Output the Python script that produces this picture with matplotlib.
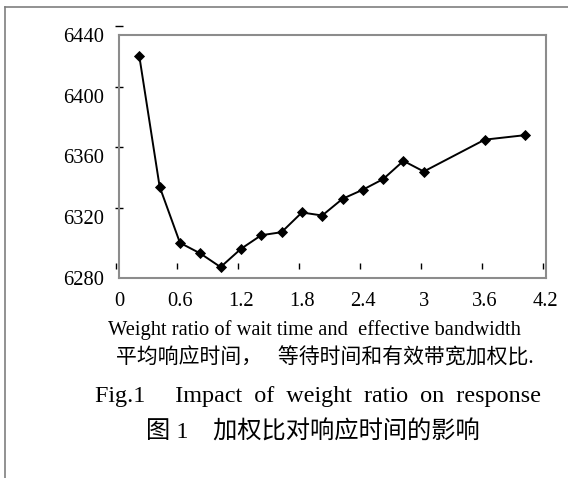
import matplotlib
matplotlib.use("Agg")
import matplotlib.pyplot as plt
from matplotlib.lines import Line2D
from matplotlib.transforms import ScaledTranslation

# weight ratio vs. average response time
ratio = [0.2, 0.4, 0.6, 0.8, 1.0, 1.2, 1.4, 1.6, 1.8, 2.0,
         2.2, 2.4, 2.6, 2.8, 3.0, 3.6, 4.0]
resp_time = [6426, 6340, 6303, 6296, 6287, 6299, 6308, 6310, 6323, 6321,
             6332, 6338, 6345, 6357, 6350, 6371, 6374]

xticks = [0, 0.6, 1.2, 1.8, 2.4, 3, 3.6, 4.2]
xtick_labels = ["0", "0.6", "1.2", "1.8", "2.4", "3", "3.6", "4.2"]
yticks = [6280, 6320, 6360, 6400, 6440]

xlabel_en = "Weight ratio of wait time and  effective bandwidth"
xlabel_cn = "平均响应时间，   等待时间和有效带宽加权比."
caption_en = "Fig.1     Impact  of  weight  ratio  on  response"
caption_cn = "图 1    加权比对响应时间的影响"

serif = "Liberation Serif"
mixed = ["Liberation Serif", "Noto Sans CJK SC"]

W, H = 568, 478
fig = plt.figure(figsize=(W / 100, H / 100), dpi=100)

# page frame (only top and left edges fall inside the image)
fig.add_artist(Line2D([4.5 / W, 4.5 / W], [0, 1 - 7 / H], color="#7f7f7f", lw=1.2,
                      transform=fig.transFigure))
fig.add_artist(Line2D([4.5 / W, 1], [1 - 7 / H, 1 - 7 / H], color="#7f7f7f", lw=1.2,
                      transform=fig.transFigure))

left, right, top, bottom = 119, 545.7, 35, 277.7
ax = fig.add_axes([left / W, 1 - bottom / H, (right - left) / W, (bottom - top) / H])

ax.plot(ratio, resp_time, color="black", lw=1.4, marker="D", ms=5,
        mfc="black", mec="black", mew=0.6, clip_on=False)

ax.set_xlim(0, 4.2)
ax.set_ylim(6280, 6440)

for sp in ax.spines.values():
    sp.set_color("#8c8c8c")
    sp.set_linewidth(1.5)

ax.set_xticks(xticks)
ax.set_xticklabels(xtick_labels, fontfamily=serif, fontsize=14.8)
ax.set_yticks(yticks)
ax.set_yticklabels([str(v) for v in yticks], fontfamily=serif, fontsize=14.8)
ax.tick_params(axis="x", length=0, pad=10)
ax.tick_params(axis="y", length=0, pad=10.8)

# short tick marks, drawn slightly shifted off the axis lines
dpi_tr = fig.dpi_scale_trans
ytr = ax.get_yaxis_transform() + ScaledTranslation(-0.005, 0.09, dpi_tr)
ax.plot([0] * (len(yticks) - 1), yticks[1:], ls="none", marker="_", ms=5.5,
        mew=1, color="black", transform=ytr, clip_on=False)
xtr = ax.get_xaxis_transform() + ScaledTranslation(-0.032, 0.117, dpi_tr)
ax.plot(xticks, [0] * len(xticks), ls="none", marker="|", ms=4.5,
        mew=1, color="black", transform=xtr, clip_on=False)

# axis titles and captions under the chart
fig.text(314.5 / W, 1 - 335 / H, xlabel_en, ha="center", va="baseline",
         fontfamily=serif, fontsize=14.8)
fig.text(324.7 / W, 1 - 363.4 / H, xlabel_cn, ha="center", va="baseline",
         family=mixed, fontsize=15)
fig.text(318 / W, 1 - 401.7 / H, caption_en, ha="center", va="baseline",
         fontfamily=serif, fontsize=17.4)
fig.text(313 / W, 1 - 438.3 / H, caption_cn, ha="center", va="baseline",
         family=mixed, fontsize=17.5)

fig.savefig("out.png", dpi=100)
